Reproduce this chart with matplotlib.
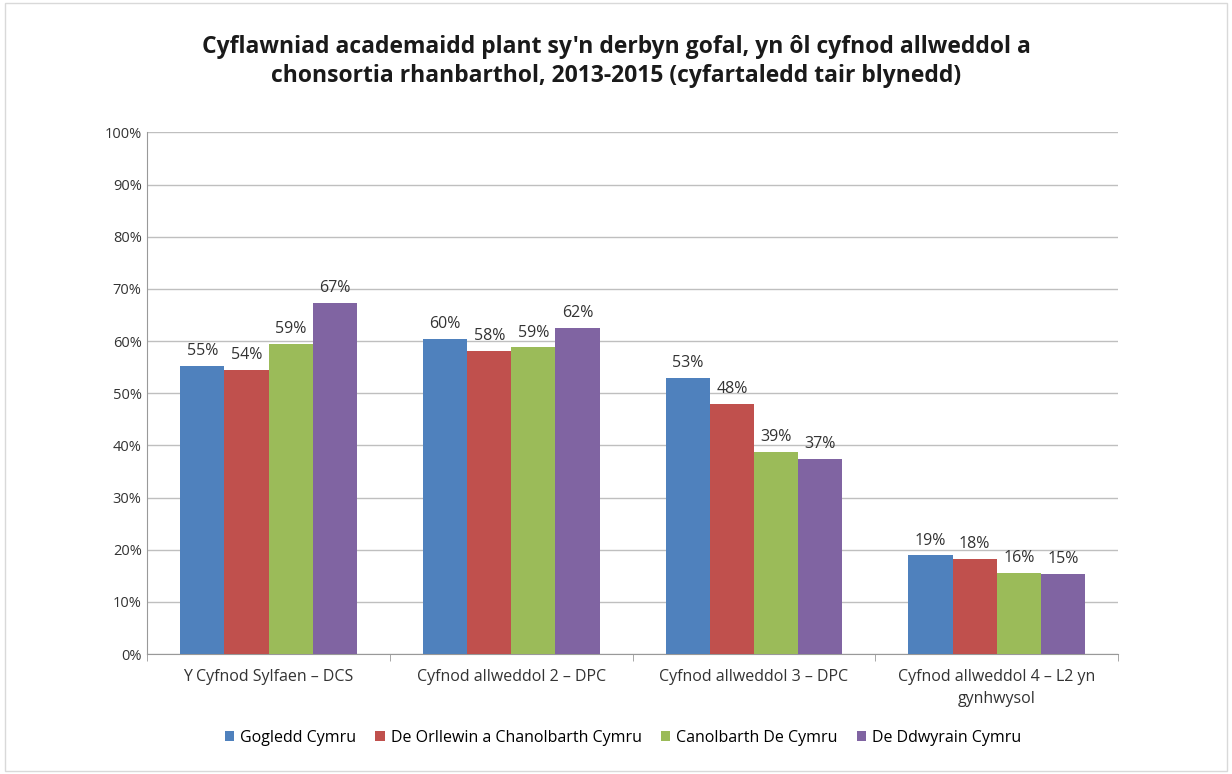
import matplotlib.pyplot as plt
import numpy as np
from matplotlib.patches import Rectangle

# data
categories = ["Y Cyfnod Sylfaen \u2013 DCS", "Cyfnod allweddol 2 \u2013 DPC",
              "Cyfnod allweddol 3 \u2013 DPC", "Cyfnod allweddol 4 \u2013 L2 yn\ngynhwysol"]
series_names = ["Gogledd Cymru", "De Orllewin a Chanolbarth Cymru",
                "Canolbarth De Cymru", "De Ddwyrain Cymru"]
gogledd = [55.3, 60.4, 53.0, 18.9]
de_orllewin = [54.4, 58.1, 47.9, 18.3]
canolbarth = [59.4, 58.8, 38.8, 15.5]
de_ddwyrain = [67.3, 62.5, 37.4, 15.4]
values = [gogledd, de_orllewin, canolbarth, de_ddwyrain]
colors = ["#4F81BD", "#C0504D", "#9BBB59", "#8064A2"]

title = ("Cyflawniad academaidd plant sy'n derbyn gofal, yn \u00f4l cyfnod allweddol a\n"
         "chonsortia rhanbarthol, 2013-2015 (cyfartaledd tair blynedd)")

plt.rcParams['font.family'] = ['Open Sans', 'DejaVu Sans']

fig = plt.figure(figsize=(12.32, 7.74), dpi=100)
fig.patches.append(Rectangle((0.004, 0.004), 0.992, 0.992, transform=fig.transFigure,
                             fill=False, edgecolor="#d9d9d9", linewidth=1))
ax = fig.add_axes([0.1195, 0.155, 0.788, 0.674])

x = np.arange(len(categories))
bw = 0.182
for i, (vals, name, c) in enumerate(zip(values, series_names, colors)):
    pos = x + (i - 1.5) * bw
    ax.bar(pos, vals, width=bw, color=c, label=name, zorder=3)
    for p, v in zip(pos, vals):
        ax.text(p, v + 1.3, f"{round(v):.0f}%", ha="center", va="bottom",
                fontsize=11.5, color="#333333")

ax.set_xlim(-0.5, len(categories) - 0.5)
ax.set_ylim(0, 100)
ax.set_yticks(np.arange(0, 101, 10))
ax.set_yticklabels([f"{t}%" for t in range(0, 101, 10)], fontsize=10.5, color="#333333")
ax.yaxis.grid(True, color="#bfbfbf", linewidth=1, zorder=0)
ax.set_xticks(x)
ax.set_xticklabels(categories, fontsize=11.5, color="#333333", linespacing=1.5)
ax.tick_params(axis="x", length=0, pad=11)
ax.tick_params(axis="y", length=0, pad=4)
ax.set_xticks(np.arange(-0.5, len(categories)), minor=True)
ax.tick_params(axis="x", which="minor", length=5, color="#999999", direction="out")
for s in ["top", "right"]:
    ax.spines[s].set_visible(False)
ax.spines["left"].set_color("#999999")
ax.spines["bottom"].set_color("#999999")

fig.suptitle(title, fontsize=16.5, fontweight="bold", y=0.955, color="#1a1a1a",
             linespacing=1.3)

ax.legend(loc="center", bbox_to_anchor=(0.49, -0.161), ncol=4, frameon=False,
          fontsize=11.5, handlelength=0.6, handleheight=0.6, handletextpad=0.35,
          columnspacing=1.2)

plt.savefig("out.png", dpi=100)
